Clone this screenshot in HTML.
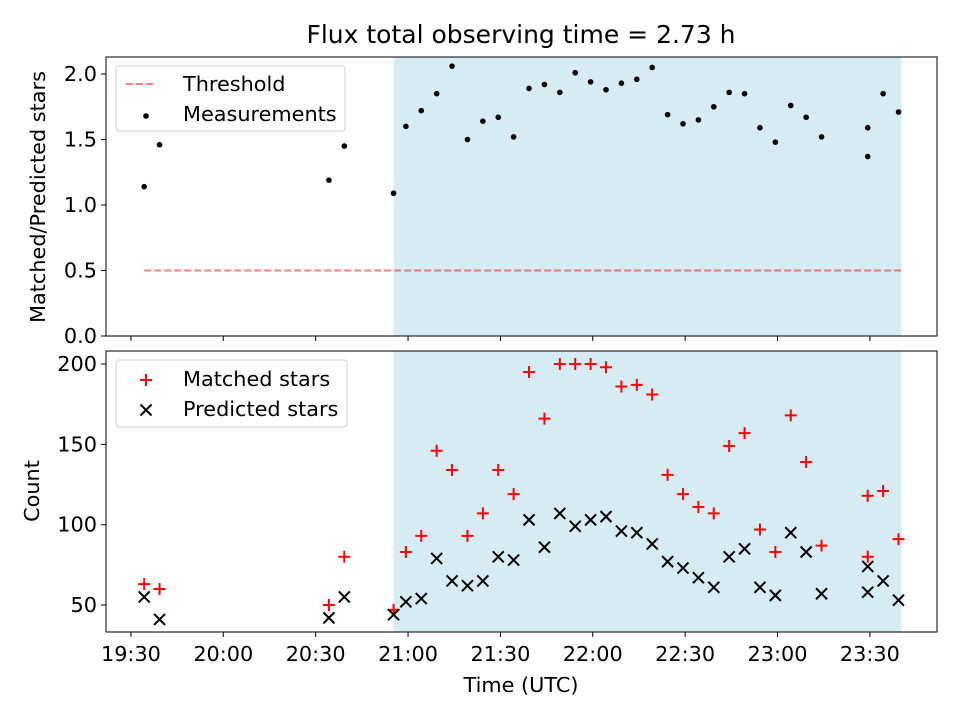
<!DOCTYPE html>
<html><head><meta charset="utf-8"><style>
body{margin:0;background:#fff}
svg{display:block;font-family:"DejaVu Sans","Liberation Sans",sans-serif}
</style></head><body>
<svg id="chart" width="960" height="720" viewBox="0 0 960 720"></svg>
<script>
const times=["19:34","19:39","20:34","20:39","20:55","20:59","21:04","21:09","21:14","21:19","21:24","21:29","21:34","21:39","21:44","21:49","21:54","21:59","22:04","22:09","22:14","22:19","22:24","22:29","22:34","22:39","22:44","22:49","22:54","22:59","23:04","23:09","23:14","23:29","23:29","23:34","23:39"];
const ratios=[1.14,1.46,1.19,1.45,1.09,1.60,1.72,1.85,2.06,1.50,1.64,1.67,1.52,1.89,1.92,1.86,2.01,1.94,1.88,1.93,1.96,2.05,1.69,1.62,1.65,1.75,1.86,1.85,1.59,1.48,1.76,1.67,1.52,1.37,1.59,1.85,1.71];
const matched=[63,60,50,80,47,83,93,146,134,93,107,134,119,195,166,200,200,200,198,186,187,181,131,119,111,107,149,157,97,83,168,139,87,80,118,121,91];
const predicted=[55,41,42,55,44,52,54,79,65,62,65,80,78,103,86,107,99,103,105,96,95,88,77,73,67,61,80,85,61,56,95,83,57,58,74,65,53];
const xTickLabels=["19:30","20:00","20:30","21:00","21:30","22:00","22:30","23:00","23:30"];
const topTicks=[0,0.5,1.0,1.5,2.0];
const botTicks=[50,100,150,200];
const threshold=0.5;
const shadeStart="20:55", shadeEnd="23:40";

const NS="http://www.w3.org/2000/svg";
const svg=document.getElementById('chart');
function el(tag,attrs,parent){const e=document.createElementNS(NS,tag);for(const k in attrs)e.setAttribute(k,attrs[k]);(parent||svg).appendChild(e);return e;}
function mins(t){const [h,m]=t.split(':').map(Number);return (h*60+m)-(19*60+30)+0.3;}
function tickMins(t){const [h,m]=t.split(':').map(Number);return (h*60+m)-(19*60+30);}
const X0=106,X1=937,xmin=-8.1,xmax=261.8;
const xs=m=>X0+(m-xmin)/(xmax-xmin)*(X1-X0);
const TT=57,TB=336,tmin=0,tmax=2.13;
const yt=v=>TB-(v-tmin)/(tmax-tmin)*(TB-TT);
const BT=351,BB=632,bmin=33.2,bmax=208.1;
const yb=v=>BB-(v-bmin)/(bmax-bmin)*(BB-BT);

function txt(x,y,s,attrs,name){const t=el('text',Object.assign({x:x,y:y,'font-size':20.8,fill:'#000'},attrs||{}));t.textContent=s;


return t;}

txt(521,43,"Flux total observing time = 2.73 h",{'text-anchor':'middle','font-size':25},'chart-title');

[[TT,TB,'top-shade'],[BT,BB,'bottom-shade']].forEach(([a,b,n])=>{
const r=el('rect',{x:xs(mins(shadeStart)),y:a,width:xs(mins(shadeEnd))-xs(mins(shadeStart)),height:b-a,fill:'#add8e6',opacity:0.5});


});

const th=el('line',{x1:xs(mins(times[0])),x2:xs(mins(shadeEnd)),y1:yt(threshold),y2:yt(threshold),stroke:'#ff0000','stroke-opacity':0.5,'stroke-width':2,'stroke-dasharray':'7,3'});



times.forEach((t,i)=>{const c=el('circle',{cx:xs(mins(t)),cy:yt(ratios[i]),r:2.8,fill:'#000'});

});

times.forEach((t,i)=>{const x=xs(mins(t)),y=yb(matched[i]);
const p=el('path',{d:`M${x-6},${y}H${x+6}M${x},${y-6}V${y+6}`,stroke:'#ff0000','stroke-width':2});


const y2=yb(predicted[i]);
const q=el('path',{d:`M${x-5.5},${y2-5.5}L${x+5.5},${y2+5.5}M${x-5.5},${y2+5.5}L${x+5.5},${y2-5.5}`,stroke:'#000','stroke-width':2});

});

[[TT,TB,'top-axes-frame'],[BT,BB,'bottom-axes-frame']].forEach(([a,b,n])=>{
const r=el('rect',{x:X0,y:a,width:X1-X0,height:b-a,fill:'none',stroke:'#000','stroke-width':1});

});

xTickLabels.forEach(l=>{const x=xs(tickMins(l));
el('line',{x1:x,x2:x,y1:TB,y2:TB+5,stroke:'#000'});
el('line',{x1:x,x2:x,y1:BB,y2:BB+5,stroke:'#000'});
txt(x,661,l,{'text-anchor':'middle'},'x-tick-label');});
topTicks.forEach(v=>{const y=yt(v);el('line',{x1:X0-5,x2:X0,y1:y,y2:y,stroke:'#000'});
txt(X0-9,y+7,v.toFixed(1),{'text-anchor':'end'},'top-y-tick-label');});
botTicks.forEach(v=>{const y=yb(v);el('line',{x1:X0-5,x2:X0,y1:y,y2:y,stroke:'#000'});
txt(X0-9,y+7,String(v),{'text-anchor':'end'},'bottom-y-tick-label');});

txt(521,692,"Time (UTC)",{'text-anchor':'middle'},'x-axis-title');
txt(0,0,"Matched/Predicted stars",{'text-anchor':'middle',transform:`translate(45,197) rotate(-90)`},'top-y-axis-title');
txt(0,0,"Count",{'text-anchor':'middle',transform:`translate(39,491) rotate(-90)`},'bottom-y-axis-title');

const lg1=el('rect',{x:116,y:66,width:229,height:65,rx:3,fill:'#fff','fill-opacity':0.8,stroke:'#ccc'});


el('line',{x1:126,x2:154,y1:84,y2:84,stroke:'#ff0000','stroke-opacity':0.5,'stroke-width':2,'stroke-dasharray':'7,3'});
txt(183,91,"Threshold",{},'legend-threshold');
el('circle',{cx:146,cy:116,r:2.8,fill:'#000'});
txt(183,121,"Measurements",{},'legend-measurements');

const lg2=el('rect',{x:116,y:360,width:231,height:67,rx:3,fill:'#fff','fill-opacity':0.8,stroke:'#ccc'});


el('path',{d:'M140,380H152M146,374V386',stroke:'#ff0000','stroke-width':2});
txt(183,386,"Matched stars",{},'legend-matched');
el('path',{d:'M140.5,404.5L151.5,415.5M140.5,415.5L151.5,404.5',stroke:'#000','stroke-width':2});
txt(183,416,"Predicted stars",{},'legend-predicted');
</script>
</body></html>
